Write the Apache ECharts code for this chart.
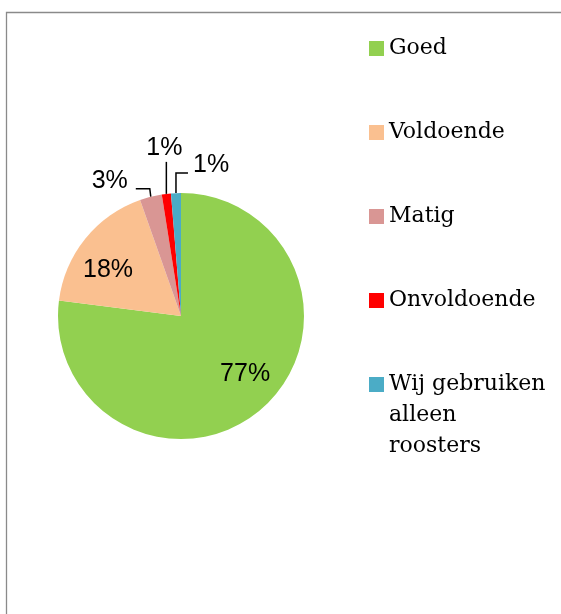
<!DOCTYPE html>
<html>
<head>
<meta charset="utf-8">
<script src="https://cdn.jsdelivr.net/npm/echarts@6/dist/echarts.min.js"></script>
<style>
  html, body { margin: 0; padding: 0; background: #fff; }
  #chart { width: 561px; height: 614px; }
</style>
</head>
<body>
<div id="chart"></div>
<script>
var categories = ["Goed", "Voldoende", "Matig", "Onvoldoende", "Wij gebruiken alleen roosters"];
var values = [77.0, 17.6, 2.9, 1.2, 1.3];
var colors = ["#92D050", "#FAC090", "#D99694", "#FF0000", "#4BACC6"];

var pieCenter = [181, 316];
var pieRadius = 123;

var chart = echarts.init(document.getElementById("chart"));

var pieData = categories.map(function (name, i) {
  var item = { name: name, value: values[i], itemStyle: { color: colors[i] } };
  if (i < 2) {
    // grote stukken: label binnen in de taart
    item.label = { position: "inside" };
    item.labelLine = { show: false };
  }
  return item;
});

var legendText = {
  color: "#000",
  fontFamily: "DejaVu Serif",
  fontSize: 22,
  lineHeight: 31,
};

var option = {
  animation: false,
  graphic: [
    {
      type: "rect",
      shape: { x: 6.5, y: 12.5, width: 620, height: 660 },
      style: { fill: "none", stroke: "#8a8a8a", lineWidth: 1.3 },
      silent: true,
    },
  ],
  legend: [
    {
      orient: "vertical",
      left: 369,
      top: 33,
      padding: 0,
      itemWidth: 15,
      itemHeight: 15,
      itemGap: 53,
      selectedMode: false,
      icon: "rect",
      textStyle: legendText,
      data: categories.slice(0, 4),
    },
    {
      orient: "vertical",
      left: 369,
      top: 307,
      padding: 0,
      itemWidth: 15,
      itemHeight: 15,
      selectedMode: false,
      icon: "rect",
      textStyle: legendText,
      // twee lege regels ervoor, zodat de eerste regel naast het blokje staat
      formatter: function () {
        return "\n\nWij gebruiken\nalleen\nroosters";
      },
      data: categories.slice(4),
    },
  ],
  series: [
    {
      type: "pie",
      center: pieCenter,
      radius: pieRadius,
      startAngle: 90,
      clockwise: true,
      avoidLabelOverlap: false,
      emphasis: { disabled: true },
      itemStyle: { borderWidth: 0 },
      label: {
        show: true,
        position: "outside",
        color: "#000",
        fontFamily: "Liberation Sans",
        fontSize: 25,
        formatter: function (p) {
          return Math.round(p.percent) + "%";
        },
      },
      labelLine: {
        show: true,
        length: 8,
        length2: 14,
        lineStyle: { color: "#000", width: 1.5 },
      },
      labelLayout: function (p) {
        var i = p.dataIndex;
        if (i < 2) {
          // verder naar buiten en iets tegen de klok in, zoals Excel
          var r = p.labelRect;
          var vx = (r.x + r.width / 2 - pieCenter[0]) * 1.34;
          var vy = (r.y + r.height / 2 - pieCenter[1]) * 1.34;
          var t = (-6.5 * Math.PI) / 180;
          return {
            x: pieCenter[0] + vx * Math.cos(t) - vy * Math.sin(t),
            y: pieCenter[1] + vx * Math.sin(t) + vy * Math.cos(t),
            align: "center",
            verticalAlign: "middle",
          };
        }
        var p0 = p.labelLinePoints[0];
        if (i === 2) {
          return {
            x: p0[0] - 23,
            y: p0[1] - 16,
            align: "right",
            verticalAlign: "middle",
            labelLinePoints: [p0, [p0[0] - 1, p0[1] - 8], [p0[0] - 15, p0[1] - 8]],
          };
        }
        if (i === 3) {
          return {
            x: p0[0] - 2,
            y: p0[1] - 46,
            align: "center",
            verticalAlign: "middle",
            labelLinePoints: [p0, [p0[0], p0[1] - 32]],
          };
        }
        return {
          x: p0[0] + 17,
          y: p0[1] - 28,
          align: "left",
          verticalAlign: "middle",
          labelLinePoints: [p0, [p0[0], p0[1] - 20], [p0[0] + 12, p0[1] - 20]],
        };
      },
      data: pieData,
    },
  ],
};

chart.setOption(option);
</script>
</body>
</html>
